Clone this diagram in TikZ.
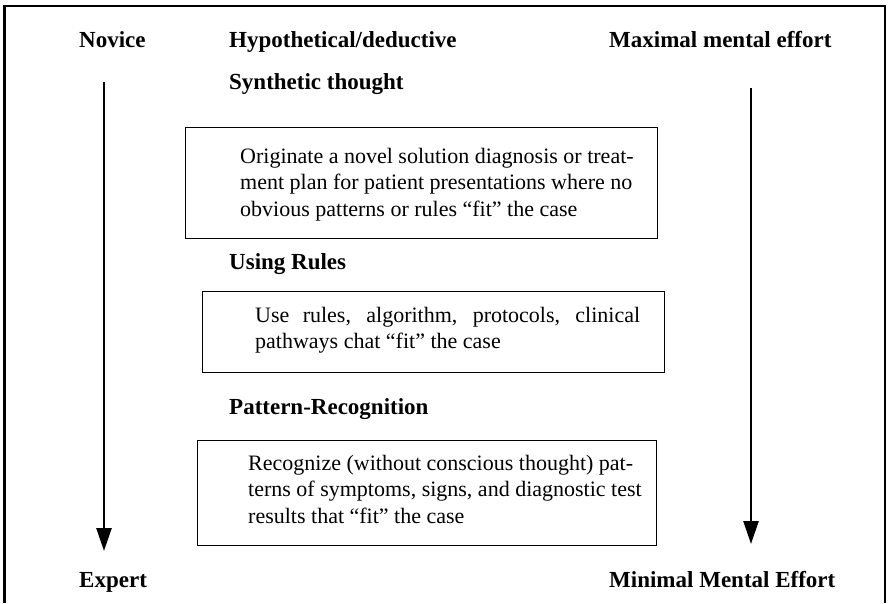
\documentclass[tikz,border=0pt]{standalone}
\usepackage{fontspec}
\setmainfont{Liberation Serif}
\usetikzlibrary{arrows.meta}
\tikzset{
  head/.style={font=\fontsize{23}{27}\selectfont\bfseries, anchor=base west, inner sep=0pt},
  body/.style={font=\fontsize{22}{26.5}\selectfont, anchor=north west, align=left, inner sep=0pt},
  framebox/.style={draw, line width=1pt, inner sep=0pt},
  flow/.style={line width=2.5pt, -{Triangle[width=15pt,length=23pt]}},
  outer/.style={line width=2.5pt}
}
\begin{document}
\begin{tikzpicture}[x=1pt,y=-1pt]
\useasboundingbox (0,0) rectangle (888,603);
% outer frame (open at the bottom)
\draw[outer] (4.5,603) -- (4.5,6) -- (885,6) -- (885,603);

% column headings
\node[head] (novice) at (79,47) {Novice};
\node[head] (hypo) at (229,47) {Hypothetical/deductive};
\node[head] (maxeff) at (609,47) {Maximal mental effort};
\node[head] (synth) at (229,89) {Synthetic thought};
\node[head] (rules) at (229,269) {Using Rules};
\node[head] (pattern) at (229,414) {Pattern-Recognition};
\node[head] (expert) at (79,587) {Expert};
\node[head] (mineff) at (609,587) {Minimal Mental Effort};

% boxes
\node[framebox, minimum width=472pt, minimum height=111pt] (box1) at (421,182.5) {};
\node[body] (txt1) at (240,148) {Originate a novel solution diagnosis or treat-\\ment plan for patient presentations where no\\obvious patterns or rules “fit” the case};

\node[framebox, minimum width=462pt, minimum height=81pt] (box2) at (433,331.5) {};
\node[body] (txt2) at (255,307) {\makebox[385pt][s]{Use rules, algorithm, protocols, clinical}\\pathways chat “fit” the case};

\node[framebox, minimum width=459pt, minimum height=105pt] (box3) at (426.5,492.5) {};
\node[body] (txt3) at (248,455) {Recognize (without conscious thought) pat-\\terns of symptoms, signs, and diagnostic test\\results that “fit” the case};

% arrows
\coordinate (l1) at (104,82);
\coordinate (l2) at (104,551);
\coordinate (r1) at (751,88);
\coordinate (r2) at (751,544);
\draw[flow] (l1) -- (l2);
\draw[flow] (r1) -- (r2);
\end{tikzpicture}
\end{document}
